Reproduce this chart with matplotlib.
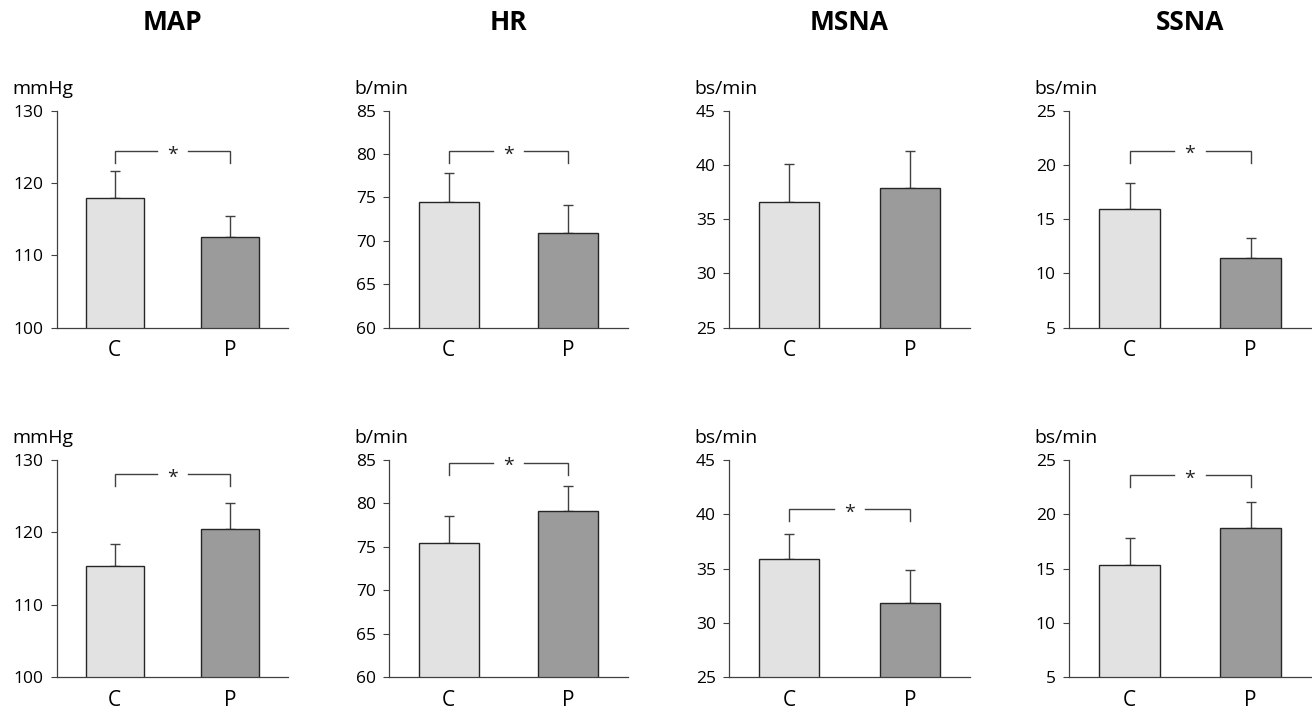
import matplotlib
matplotlib.use("Agg")
import matplotlib.pyplot as plt
from matplotlib.transforms import offset_copy

plt.rcParams['font.family'] = ['Open Sans', 'DejaVu Sans']

W, H = 1312, 709
fig = plt.figure(figsize=(W / 100, H / 100), dpi=100)

titles = ["MAP", "HR", "MSNA", "SSNA"]
units = ["mmHg", "b/min", "bs/min", "bs/min"]
groups = ["C", "P"]
ylims = [(100, 130), (60, 85), (25, 45), (5, 25)]
yticks = [[100, 110, 120, 130], [60, 65, 70, 75, 80, 85],
          [25, 30, 35, 40, 45], [5, 10, 15, 20, 25]]

# row 1
top_means = [[118.0, 112.5], [74.5, 70.9], [36.6, 37.9], [15.9, 11.4]]
top_errs = [[3.6, 3.0], [3.3, 3.2], [3.5, 3.4], [2.4, 1.9]]
top_sig = [124.4, 80.3, None, 21.3]
# row 2
bot_means = [[115.4, 120.5], [75.4, 79.1], [35.9, 31.8], [15.3, 18.7]]
bot_errs = [[3.0, 3.6], [3.2, 2.9], [2.3, 3.1], [2.5, 2.4]]
bot_sig = [128.0, 84.7, 40.5, 23.6]

colors = ["#e2e2e2", "#9b9b9b"]
edge = "#262626"
axcol = "#404040"

col_x = [(57, 288), (389, 628), (729, 970), (1069, 1311)]
row_y = [(110.7, 327.7), (460, 677.3)]

axes_list = []
for r, (means, errs, sigs) in enumerate([(top_means, top_errs, top_sig),
                                          (bot_means, bot_errs, bot_sig)]):
    for c in range(4):
        x0, x1 = col_x[c]
        yt, yb = row_y[r]
        ax = fig.add_axes([x0 / W, 1 - yb / H, (x1 - x0) / W, (yb - yt) / H])
        xs = [0, 1]
        ax.bar(xs, means[c], width=0.5, color=colors, edgecolor=edge,
               linewidth=1.0, zorder=2)
        ax.errorbar(xs, means[c], yerr=[[0, 0], errs[c]], fmt='none',
                    ecolor=axcol, elinewidth=1.0, capsize=3.5, capthick=1.0,
                    zorder=1)
        lo, hi = ylims[c]
        ax.set_xlim(-0.5, 1.5)
        ax.set_ylim(lo, hi)
        ax.set_yticks(yticks[c])
        ax.set_yticklabels([str(t) for t in yticks[c]])
        ax.set_xticks(xs)
        ax.set_xticklabels(groups, fontsize=15)
        ax.tick_params(axis='x', length=0, pad=9)
        ax.tick_params(axis='y', direction='out', length=4.5, width=0.8,
                       color=axcol, labelsize=12.5, pad=5)
        for s in ['top', 'right']:
            ax.spines[s].set_visible(False)
        for s in ['left', 'bottom']:
            ax.spines[s].set_color(axcol)
            ax.spines[s].set_linewidth(0.9)
        y = sigs[c]
        if y is not None:
            leg = y - 0.055 * (hi - lo)
            ax.plot([0, 0, 0.37], [leg, y, y], color=axcol, lw=1.0,
                    solid_joinstyle='miter')
            ax.plot([0.63, 1, 1], [y, y, leg], color=axcol, lw=1.0,
                    solid_joinstyle='miter')
            tr = offset_copy(ax.transData, fig=fig, x=0, y=-2.5, units='points')
            ax.text(0.5, y, "*", ha='center', va='center', fontsize=14,
                    color='#222222', transform=tr)
        if r == 0:
            fig.text(((x0 + x1) / 2) / W, 1 - 23 / H, titles[c],
                     ha='center', va='center', fontsize=19,
                     fontweight='bold')
        axes_list.append((ax, r, c))

fig.canvas.draw()
renderer = fig.canvas.get_renderer()
for ax, r, c in axes_list:
    lefts = [t.get_window_extent(renderer).x0 for t in ax.get_yticklabels()]
    xl = min(lefts) - 1
    yt = row_y[r][0]
    fig.text(xl / W, 1 - (yt - 17) / H, units[c], ha='left',
             va='baseline', fontsize=14)

fig.savefig("out.png", dpi=100)
